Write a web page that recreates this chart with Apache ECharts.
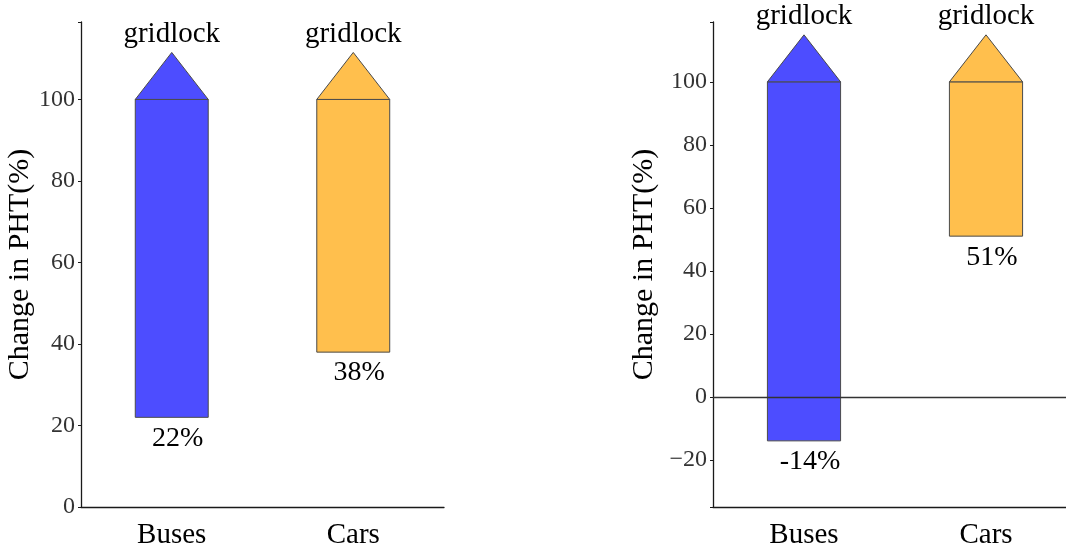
<!DOCTYPE html>
<html>
<head>
<meta charset="utf-8">
<script src="https://cdn.jsdelivr.net/npm/echarts@6/dist/echarts.min.js"></script>
<style>
html,body{margin:0;padding:0;background:#fff;overflow:hidden;width:1066px;height:555px;}
#c{width:1090px;height:555px;}
</style>
</head>
<body>
<div id="c"></div>
<script>
const categories = ['Buses', 'Cars'];
const leftLow = [22, 38];
const leftHigh = [100, 100];
const leftLabels = ['22%', '38%'];
const rightLow = [-14, 51];
const rightHigh = [100, 100];
const rightLabels = ['-14%', '51%'];
const topLabel = 'gridlock';
const yName = 'Change in PHT(%)';
const barColors = ['#4d4dff', '#ffbf4d'];

const FONT = '"Liberation Serif", "DejaVu Serif", serif';

function makeRender(labels) {
  return function (params, api) {
    const i = params.dataIndex;
    const cat = api.value(0), low = api.value(1), high = api.value(2);
    const pLow = api.coord([cat, low]);
    const pHigh = api.coord([cat, high]);
    const bw = api.size([1, 0])[0] * 0.402;
    const x0 = pHigh[0] - bw / 2;
    const triH = 47;
    const stroke = '#4a4a4a';
    return {
      type: 'group',
      children: [
        {type: 'rect', shape: {x: x0, y: pHigh[1], width: bw, height: pLow[1] - pHigh[1]},
         style: {fill: barColors[i], stroke: stroke, lineWidth: 1}},
        {type: 'polygon', shape: {points: [[x0, pHigh[1]], [x0 + bw, pHigh[1]], [pHigh[0], pHigh[1] - triH]]},
         style: {fill: barColors[i], stroke: stroke, lineWidth: 1}},
        {type: 'text', x: pHigh[0], y: pHigh[1] - triH - 18,
         style: {text: topLabel, font: '29px ' + FONT, fill: '#000', align: 'center', verticalAlign: 'middle'}},
        {type: 'text', x: pLow[0] + 6, y: pLow[1] + 21,
         style: {text: labels[i], font: '28px ' + FONT, fill: '#000', align: 'center', verticalAlign: 'middle'}}
      ]
    };
  };
}

function buildData(low, high) {
  return categories.map((c, i) => [i, low[i], high[i]]);
}

function fmt(v) {
  if (v % 20 !== 0) return '';
  return v < 0 ? '\u2212' + (-v) : String(v);
}

function xAxis(gi) {
  return {
    type: 'category', gridIndex: gi, data: categories,
    axisLine: {onZero: false, lineStyle: {color: '#1a1a1a', width: 1.3}},
    axisTick: {alignWithLabel: true, inside: true, length: 10, lineStyle: {color: '#1a1a1a', width: 2}},
    axisLabel: {color: '#000', fontFamily: FONT, fontSize: 29, margin: 14},
    splitLine: {show: false}
  };
}

function yAxis(gi, min, max, gap, extra) {
  return Object.assign({
    type: 'value', gridIndex: gi, min: min, max: max,
    name: yName, nameLocation: 'middle', nameGap: gap, nameRotate: 90,
    nameTextStyle: {color: '#000', fontFamily: FONT, fontSize: 30},
    axisLine: {show: true, lineStyle: {color: '#1a1a1a', width: 1.3}},
    axisTick: {show: true, length: 3, lineStyle: {color: '#1a1a1a'}},
    axisLabel: {color: '#333', fontFamily: FONT, fontSize: 24, margin: 6, formatter: fmt},
    splitLine: {show: false}
  }, extra);
}

const chart = echarts.init(document.getElementById('c'), null, {renderer: 'canvas'});
chart.setOption({
  animation: false,
  backgroundColor: '#fff',
  grid: [
    {left: 81, top: 22, width: 363, height: 485, containLabel: false},
    {left: 713, top: 22, width: 364, height: 485, containLabel: false}
  ],
  xAxis: [xAxis(0), xAxis(1)],
  yAxis: [yAxis(0, 0, 119, 44, {interval: 20}), yAxis(1, -35, 119, 54, {splitNumber: 8})],
  series: [
    {type: 'custom', xAxisIndex: 0, yAxisIndex: 0, data: buildData(leftLow, leftHigh),
     renderItem: makeRender(leftLabels), clip: false},
    {type: 'custom', xAxisIndex: 1, yAxisIndex: 1, data: buildData(rightLow, rightHigh),
     renderItem: makeRender(rightLabels), clip: false, z: 2,
     markLine: {silent: true, symbol: 'none', label: {show: false},
       lineStyle: {color: '#333', width: 1.3, type: 'solid'}, data: [{yAxis: 0}], z: 5}}
  ]
});
</script>
</body>
</html>
